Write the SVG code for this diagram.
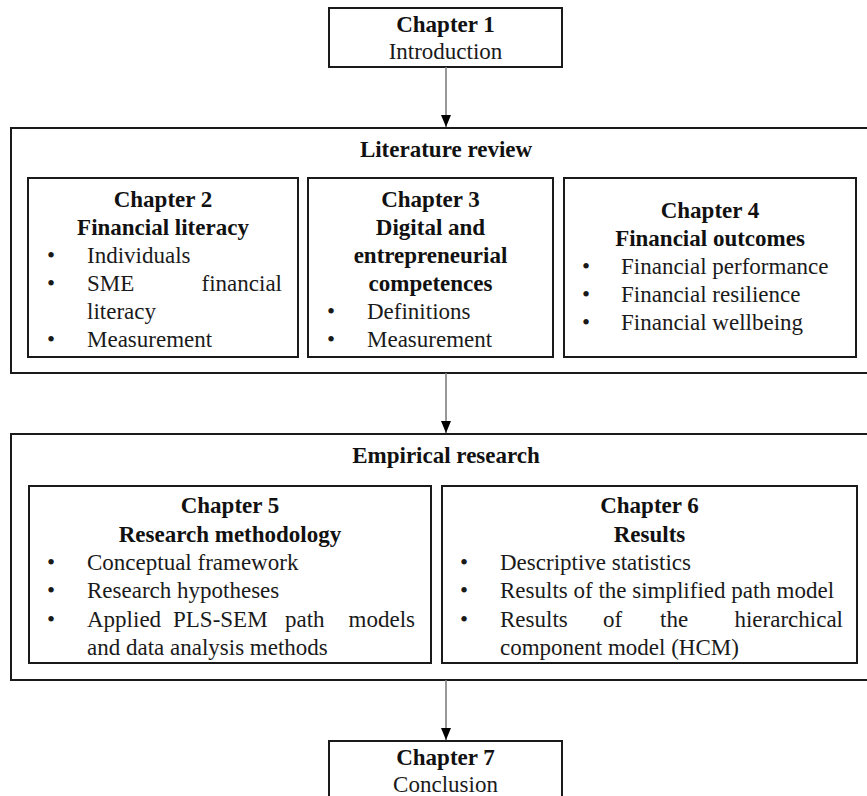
<svg xmlns="http://www.w3.org/2000/svg" width="867" height="796" viewBox="0 0 867 796">
<style>
.box{fill:#fff;stroke:#1a1a1a;stroke-width:2}
.outer{fill:#fff;stroke:#1a1a1a;stroke-width:2}
.conn{stroke:#7f7f7f;stroke-width:1.6;fill:none}
text{font-family:"Liberation Serif","Times New Roman",serif;font-size:23px;fill:#1a1a1a}
.b{font-weight:bold;fill:#111}
.c{text-anchor:middle}
.e{text-anchor:end}
</style>
<defs>
<marker id="ah" viewBox="0 0 12 10" refX="12" refY="5" markerWidth="12" markerHeight="10" markerUnits="userSpaceOnUse" orient="auto">
<path d="M0,0 L12,5 L0,10 Z" fill="#000"/>
</marker>
</defs>
<rect width="867" height="796" fill="#fff"/>

<g id="literature-review">
<rect class="outer" x="11" y="128" width="870" height="245"/>
<text class="b c" x="446" y="157">Literature review</text>
</g>

<g id="empirical-research">
<rect class="outer" x="11" y="434" width="870" height="246"/>
<text class="b c" x="446" y="463">Empirical research</text>
</g>

<g id="chapter1">
<rect class="box" x="329" y="8" width="233" height="59"/>
<text class="b c" x="445.5" y="32">Chapter 1</text>
<text class="c" x="445.5" y="59">Introduction</text>
</g>

<g id="chapter2">
<rect class="box" x="28" y="178" width="270" height="179"/>
<text class="b c" x="163" y="207">Chapter 2</text>
<text class="b c" x="163" y="235">Financial literacy</text>
<text x="47" y="263">•</text><text x="87" y="263">Individuals</text>
<text x="47" y="291">•</text><text x="87" y="291">SME</text><text class="e" x="282" y="291">financial</text>
<text x="87" y="319">literacy</text>
<text x="47" y="347">•</text><text x="87" y="347">Measurement</text>
</g>

<g id="chapter3">
<rect class="box" x="308" y="178" width="245" height="179"/>
<text class="b c" x="430.5" y="207">Chapter 3</text>
<text class="b c" x="430.5" y="235">Digital and</text>
<text class="b c" x="430.5" y="263">entrepreneurial</text>
<text class="b c" x="430.5" y="291">competences</text>
<text x="327" y="319">•</text><text x="367" y="319">Definitions</text>
<text x="327" y="347">•</text><text x="367" y="347">Measurement</text>
</g>

<g id="chapter4">
<rect class="box" x="564" y="178" width="292" height="179"/>
<text class="b c" x="710" y="218">Chapter 4</text>
<text class="b c" x="710" y="246">Financial outcomes</text>
<text x="582" y="274">•</text><text x="621" y="274">Financial performance</text>
<text x="582" y="302">•</text><text x="621" y="302">Financial resilience</text>
<text x="582" y="330">•</text><text x="621" y="330">Financial wellbeing</text>
</g>

<g id="chapter5">
<rect class="box" x="29" y="486" width="402" height="177"/>
<text class="b c" x="230" y="513">Chapter 5</text>
<text class="b c" x="230" y="542">Research methodology</text>
<text x="47" y="570">•</text><text x="87" y="570">Conceptual framework</text>
<text x="47" y="598">•</text><text x="87" y="598">Research hypotheses</text>
<text x="47" y="627">•</text><text x="87" y="627">Applied</text><text x="173" y="627">PLS-SEM</text><text x="285" y="627">path</text><text class="e" x="415" y="627">models</text>
<text x="87" y="655">and data analysis methods</text>
</g>

<g id="chapter6">
<rect class="box" x="442" y="486" width="415" height="177"/>
<text class="b c" x="649.5" y="513">Chapter 6</text>
<text class="b c" x="649.5" y="542">Results</text>
<text x="460" y="570">•</text><text x="500" y="570">Descriptive statistics</text>
<text x="460" y="598">•</text><text x="500" y="598">Results of the simplified path model</text>
<text x="460" y="627">•</text><text x="500" y="627">Results</text><text x="603" y="627">of</text><text x="660" y="627">the</text><text class="e" x="843" y="627">hierarchical</text>
<text x="500" y="655">component model (HCM)</text>
</g>

<g id="chapter7">
<rect class="box" x="329" y="741" width="233" height="62"/>
<text class="b c" x="445.5" y="765">Chapter 7</text>
<text class="c" x="445.5" y="792">Conclusion</text>
</g>

<g id="connectors">
<line class="conn" x1="446" y1="67" x2="446" y2="127" marker-end="url(#ah)"/>
<line class="conn" x1="446" y1="373" x2="446" y2="433" marker-end="url(#ah)"/>
<line class="conn" x1="446" y1="680" x2="446" y2="740" marker-end="url(#ah)"/>
</g>
</svg>
